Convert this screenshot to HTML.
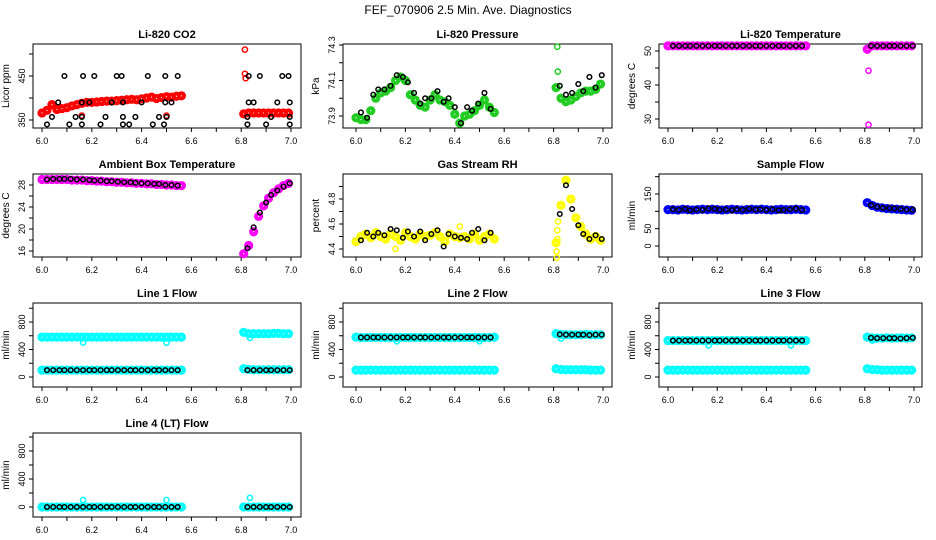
<!DOCTYPE html>
<html><head><meta charset="utf-8"><style>
body{margin:0;background:#fff;}
svg{display:block;font-family:"Liberation Sans",sans-serif;}
</style></head><body>
<svg id="chart" width="936" height="540" viewBox="0 0 936 540">
<text x="468" y="14" text-anchor="middle" font-size="12">FEF_070906  2.5 Min. Ave. Diagnostics</text>
</svg>
<script>
// shared time axes
const tA = [6.00,6.02,6.04,6.06,6.08,6.10,6.12,6.14,6.16,6.18,6.20,6.22,6.24,6.26,6.28,6.30,6.32,6.34,6.36,6.38,6.40,6.42,6.44,6.46,6.48,6.50,6.52,6.54,6.56];
const tB = [6.81,6.83,6.85,6.87,6.89,6.91,6.93,6.95,6.97,6.99];
const tKA = [6.02,6.045,6.07,6.09,6.115,6.14,6.165,6.19,6.21,6.235,6.26,6.28,6.305,6.33,6.355,6.375,6.40,6.425,6.45,6.47,6.495,6.52,6.545];
const tKB = [6.825,6.85,6.875,6.90,6.92,6.945,6.97,6.995];
const xTicks = [6.0,6.1,6.2,6.3,6.4,6.5,6.6,6.7,6.8,6.9,7.0];
const xLabels = ["6.0","","6.2","","6.4","","6.6","","6.8","","7.0"];

// CO2
const co2A = [366,372,385,374,376,378,382,385,388,390,390,391,392,393,393,394,395,396,397,396,398,400,402,399,401,403,402,404,405];
const co2B = [364,366,366,366,366,366,366,366,366,366];
const co2OutT = [6.815,6.815,6.818,6.16,6.50];
const co2OutV = [510,455,445,360,360];
const co2KT = [6.02,6.04,6.065,6.09,6.11,6.135,6.16,6.16,6.16,6.165,6.19,6.21,6.235,6.255,6.28,6.30,6.32,6.325,6.325,6.325,6.35,6.375,6.40,6.425,6.445,6.47,6.49,6.495,6.495,6.50,6.52,6.545,6.825,6.825,6.83,6.83,6.85,6.875,6.90,6.92,6.945,6.965,6.99,6.995,6.995,6.995];
const co2KV = [340,357,390,450,340,357,340,357,390,450,390,450,340,357,390,450,450,340,357,390,340,357,390,450,340,357,340,390,450,357,390,450,340,357,390,450,390,450,340,357,390,450,450,390,357,340];
// Pressure
const prA = [73.89,73.88,73.88,73.93,74.00,74.03,74.04,74.06,74.10,74.12,74.10,74.02,73.99,73.96,73.95,73.99,74.02,73.99,73.98,73.96,73.91,73.86,73.90,73.91,73.93,73.96,73.99,73.95,73.92];
const prB = [74.06,74.00,73.98,73.99,74.01,74.03,74.04,74.04,74.05,74.08];
const prOutT = [6.815,6.817];
const prOutV = [74.29,74.15];
const prKA = [73.92,73.89,74.02,74.05,74.05,74.07,74.13,74.12,74.09,74.03,73.97,74.00,74.00,74.04,73.98,74.00,73.95,73.86,73.95,73.93,73.97,74.03,73.94];
const prKB = [74.07,74.02,74.03,74.08,74.04,74.12,74.06,74.13];
// Li-820 temperature
const ltA = [51.5,51.5,51.5,51.5,51.5,51.5,51.5,51.5,51.5,51.5,51.5,51.5,51.5,51.5,51.5,51.5,51.5,51.5,51.5,51.5,51.5,51.5,51.5,51.5,51.5,51.5,51.5,51.5,51.5];
const ltB = [50.5,51.5,51.5,51.5,51.5,51.5,51.5,51.5,51.5,51.5];
const ltOutT = [6.815,6.815];
const ltOutV = [44.2,28.3];
const ltKA = [51.5,51.5,51.5,51.5,51.5,51.5,51.5,51.5,51.5,51.5,51.5,51.5,51.5,51.5,51.5,51.5,51.5,51.5,51.5,51.5,51.5,51.5,51.5];
const ltKB = [51.5,51.5,51.5,51.5,51.5,51.5,51.5,51.5];
// Ambient box temperature
const amA = [29.0,29.0,29.0,29.0,29.0,29.0,28.9,28.9,28.9,28.8,28.8,28.7,28.7,28.6,28.6,28.5,28.5,28.4,28.4,28.3,28.3,28.2,28.2,28.1,28.1,28.0,28.0,27.9,27.9];
const amB = [15.5,17.0,19.5,22.3,24.2,25.6,26.6,27.3,27.9,28.3];
const amKA = [29.0,29.1,29.1,29.1,29.1,29.0,29.0,28.9,28.8,28.8,28.7,28.7,28.6,28.5,28.5,28.4,28.3,28.3,28.2,28.2,28.0,28.0,27.9];
const amKB = [16.5,20.3,23.0,24.8,26.2,27.0,27.7,28.3];
// Gas stream RH
const rhA = [4.46,4.50,4.52,4.49,4.53,4.50,4.48,4.52,4.50,4.47,4.53,4.50,4.48,4.52,4.50,4.51,4.53,4.50,4.46,4.52,4.50,4.49,4.50,4.48,4.52,4.47,4.50,4.52,4.48];
const rhB = [4.45,4.75,4.95,4.80,4.65,4.58,4.52,4.48,4.50,4.47];
const rhOutT = [6.812,6.813,6.815,6.815,6.818,6.16,6.42];
const rhOutV = [4.38,4.33,4.48,4.55,4.62,4.40,4.58];
const rhKA = [4.47,4.53,4.50,4.53,4.51,4.56,4.55,4.49,4.54,4.50,4.54,4.47,4.52,4.55,4.42,4.52,4.50,4.49,4.48,4.53,4.56,4.47,4.53];
const rhKB = [4.68,4.91,4.72,4.59,4.52,4.48,4.51,4.48];
// Sample flow
const sfA = [105,105,104,106,105,104,105,106,105,106,105,104,105,106,105,104,105,106,105,106,105,104,105,106,105,105,106,105,104];
const sfB = [125,117,112,110,108,107,106,105,104,103];
const sfKA = [106,104,107,103,105,104,108,107,104,105,103,106,104,107,105,106,104,106,103,104,106,108,104];
const sfKB = [118,113,110,109,108,107,105,105];
// Line 1
const l1AU = [580,580,580,580,580,580,580,580,580,580,580,580,580,580,580,580,580,580,580,580,580,580,580,580,580,580,580,580,580];
const l1AL = [100,100,100,100,100,100,100,100,100,100,100,100,100,100,100,100,100,100,100,100,100,100,100,100,100,100,100,100,100];
const l1BU = [650,630,630,630,630,630,635,635,630,630];
const l1BL = [120,110,105,105,105,105,105,105,105,105];
const l1OutT = [6.165,6.50,6.835];
const l1OutV = [500,500,570];
const l1KA = [100,100,100,100,100,100,100,100,100,100,100,100,100,100,100,100,100,100,100,100,100,100,100];
const l1KB = [100,100,100,100,100,100,100,100];
// Line 2
const l2AU = [580,575,575,575,575,575,575,575,575,575,575,575,575,575,575,575,575,575,575,575,575,575,575,575,575,575,575,575,580];
const l2AL = [100,100,100,100,100,100,100,100,100,100,100,100,100,100,100,100,100,100,100,100,100,100,100,100,100,100,100,100,100];
const l2BU = [630,620,615,615,615,615,620,615,615,615];
const l2BL = [120,110,105,105,105,105,105,100,100,100];
const l2OutT = [6.165,6.50,6.83];
const l2OutV = [520,520,560];
const l2KA = [575,575,575,575,575,575,575,575,575,575,575,575,575,575,575,575,575,575,575,575,575,575,575];
const l2KB = [620,615,615,615,615,610,615,615];
// Line 3
const l3AU = [530,530,530,530,530,530,530,530,530,530,530,530,530,530,530,530,530,530,530,530,530,530,530,530,530,530,530,530,530];
const l3AL = [100,100,100,100,100,100,100,100,100,100,100,100,100,100,100,100,100,100,100,100,100,100,100,100,100,100,100,100,100];
const l3BU = [580,570,565,565,570,565,565,570,565,570];
const l3BL = [120,110,105,100,100,100,100,100,100,100];
const l3OutT = [6.165,6.50,6.83];
const l3OutV = [460,460,530];
const l3KA = [530,530,530,530,530,530,530,530,530,530,530,530,530,530,530,530,530,530,530,530,530,530,530];
const l3KB = [570,565,565,565,565,560,565,570];
// Line 4
const l4A = [0,0,0,0,0,0,0,0,0,0,0,0,0,0,0,0,0,0,0,0,0,0,0,0,0,0,0,0,0];
const l4B = [0,0,0,0,0,0,0,0,0,0];
const l4OutT = [6.165,6.50,6.835];
const l4OutV = [100,100,130];
const l4KA = [0,0,0,0,0,0,0,0,0,0,0,0,0,0,0,0,0,0,0,0,0,0,0];
const l4KB = [0,0,0,0,0,0,0,0];

const NS = 'http://www.w3.org/2000/svg';
const svg = document.getElementById('chart');
function mk(tag, attrs, parent){const e=document.createElementNS(NS,tag);for(const k in attrs)e.setAttribute(k,attrs[k]);(parent||svg).appendChild(e);return e;}

const colL=[33,343,659], colR=[301,612,922], x6=[42,356,668], x7=[291,603,914];
const rowT=[44,174,303,433], rowB=[128,257,387,517];

function panel(o){
  const c=o.col, r=o.row;
  const g=mk('g',{});
  
  
  const xs=t=>x6[c]+(t-6)*(x7[c]-x6[c]);
  const ys=v=>o.py0+(v-o.v0)*(o.py1-o.py0)/(o.v1-o.v0);
  const box=mk('rect',{x:colL[c],y:rowT[r],width:colR[c]-colL[c],height:rowB[r]-rowT[r],fill:'none',stroke:'#000','stroke-width':1},g);
  
  
  const tt=mk('text',{x:(colL[c]+colR[c])/2,y:rowT[r]-6,'text-anchor':'middle','font-size':11,'font-weight':'bold'},g);
  tt.textContent=o.title;
  
  
  const xa=mk('g',{},g);
  
  
  const yb=rowB[r];
  mk('line',{x1:xs(6),x2:xs(7),y1:yb,y2:yb,stroke:'#000'},xa);
  xTicks.forEach((t,i)=>{
    mk('line',{x1:xs(t),x2:xs(t),y1:yb,y2:yb+4,stroke:'#000'},xa);
    if(xLabels[i]){const l=mk('text',{x:xs(t),y:yb+16,'text-anchor':'middle','font-size':9},xa);l.textContent=xLabels[i];
      
      }
  });
  const ya=mk('g',{},g);
  
  
  const xl=colL[c];
  mk('line',{x1:xl,x2:xl,y1:ys(o.yt[0]),y2:ys(o.yt[o.yt.length-1]),stroke:'#000'},ya);
  o.yt.forEach((v,i)=>{
    mk('line',{x1:xl-4,x2:xl,y1:ys(v),y2:ys(v),stroke:'#000'},ya);
    if(o.yl[i]){const l=mk('text',{x:xl-8,y:ys(v),'text-anchor':'middle','font-size':9,transform:`rotate(-90 ${xl-8} ${ys(v)})`},ya);l.textContent=o.yl[i];
      
      }
  });
  const yt=mk('text',{x:xl-24,y:(rowT[r]+rowB[r])/2,'text-anchor':'middle','font-size':10,transform:`rotate(-90 ${xl-24} ${(rowT[r]+rowB[r])/2})`},g);
  yt.textContent=o.ylab;
  
  
  o.series.forEach(s=>{
    const sg=mk('g',{},g);
    
    
    s.t.forEach((t,i)=>{
      const p=mk('circle',{cx:xs(t),cy:ys(s.v[i]),r:s.k?2.3:(s.w?2.6:2.6),fill:'none',stroke:s.col,'stroke-width':s.k?1.5:(s.w||4)},sg);
      
      
    });
  });
}
const K='#000', R='#ff0000', G='#22cc22', M='#ff00ff', Y='#ffff00', B='#0000ff', C='#00ffff';
const flowTicks=[0,200,400,600,800,1000], flowLabels=['0','','400','','800',''];

panel({name:'co2-panel',title:'Li-820 CO2',ylab:'Licor ppm',col:0,row:0,v0:350,v1:450,py0:120,py1:76,yt:[350,400,450,500],yl:['350','','450',''],
  series:[{name:'co2-series',t:tA,v:co2A,col:R},{name:'co2-series-b',t:tB,v:co2B,col:R},{name:'co2-outliers',t:co2OutT,v:co2OutV,col:R,w:1.5},
  {name:'co2-avg',t:co2KT,v:co2KV,col:K,k:1}]});
panel({name:'pressure-panel',title:'Li-820 Pressure',ylab:'kPa',col:1,row:0,v0:73.9,v1:74.3,py0:116,py1:45,yt:[73.9,74.0,74.1,74.2,74.3],yl:['73.9','','74.1','','74.3'],
  series:[{name:'pressure-series',t:tA,v:prA,col:G},{name:'pressure-series-b',t:tB,v:prB,col:G},{name:'pressure-outliers',t:prOutT,v:prOutV,col:G,w:1.5},
  {name:'pressure-avg-a',t:tKA,v:prKA,col:K,k:1},{name:'pressure-avg-b',t:tKB,v:prKB,col:K,k:1}]});
panel({name:'li820-temp-panel',title:'Li-820 Temperature',ylab:'degrees C',col:2,row:0,v0:30,v1:50,py0:119,py1:51,yt:[30,35,40,45,50],yl:['30','','40','','50'],
  series:[{name:'li820-temp-series',t:tA,v:ltA,col:M},{name:'li820-temp-series-b',t:tB,v:ltB,col:M},{name:'li820-temp-outliers',t:ltOutT,v:ltOutV,col:M,w:1.5},
  {name:'li820-temp-avg-a',t:tKA,v:ltKA,col:K,k:1},{name:'li820-temp-avg-b',t:tKB,v:ltKB,col:K,k:1}]});
panel({name:'ambient-temp-panel',title:'Ambient Box Temperature',ylab:'degrees C',col:0,row:1,v0:16,v1:28,py0:251,py1:185,yt:[16,18,20,22,24,26,28],yl:['16','','20','','24','','28'],
  series:[{name:'ambient-series',t:tA,v:amA,col:M},{name:'ambient-series-b',t:tB,v:amB,col:M},
  {name:'ambient-avg-a',t:tKA,v:amKA,col:K,k:1},{name:'ambient-avg-b',t:tKB,v:amKB,col:K,k:1}]});
panel({name:'rh-panel',title:'Gas Stream RH',ylab:'percent',col:1,row:1,v0:4.4,v1:4.8,py0:249,py1:199,yt:[4.4,4.5,4.6,4.7,4.8,4.9],yl:['4.4','','4.6','','4.8',''],
  series:[{name:'rh-series',t:tA,v:rhA,col:Y},{name:'rh-series-b',t:tB,v:rhB,col:Y},{name:'rh-outliers',t:rhOutT,v:rhOutV,col:Y,w:1.5},
  {name:'rh-avg-a',t:tKA,v:rhKA,col:K,k:1},{name:'rh-avg-b',t:tKB,v:rhKB,col:K,k:1}]});
panel({name:'sample-flow-panel',title:'Sample Flow',ylab:'ml/min',col:2,row:1,v0:0,v1:150,py0:246,py1:194,yt:[0,50,100,150,200],yl:['0','50','','150',''],
  series:[{name:'sample-flow-series',t:tA,v:sfA,col:B},{name:'sample-flow-series-b',t:tB,v:sfB,col:B},
  {name:'sample-flow-avg-a',t:tKA,v:sfKA,col:K,k:1},{name:'sample-flow-avg-b',t:tKB,v:sfKB,col:K,k:1}]});
panel({name:'line1-flow-panel',title:'Line 1 Flow',ylab:'ml/min',col:0,row:2,v0:0,v1:800,py0:377,py1:322,yt:flowTicks,yl:flowLabels,
  series:[{name:'line1-upper',t:tA,v:l1AU,col:C},{name:'line1-lower',t:tA,v:l1AL,col:C},{name:'line1-upper-b',t:tB,v:l1BU,col:C},{name:'line1-lower-b',t:tB,v:l1BL,col:C},
  {name:'line1-outliers',t:l1OutT,v:l1OutV,col:C,w:1.5},{name:'line1-avg-a',t:tKA,v:l1KA,col:K,k:1},{name:'line1-avg-b',t:tKB,v:l1KB,col:K,k:1}]});
panel({name:'line2-flow-panel',title:'Line 2 Flow',ylab:'ml/min',col:1,row:2,v0:0,v1:800,py0:377,py1:322,yt:flowTicks,yl:flowLabels,
  series:[{name:'line2-upper',t:tA,v:l2AU,col:C},{name:'line2-lower',t:tA,v:l2AL,col:C},{name:'line2-upper-b',t:tB,v:l2BU,col:C},{name:'line2-lower-b',t:tB,v:l2BL,col:C},
  {name:'line2-outliers',t:l2OutT,v:l2OutV,col:C,w:1.5},{name:'line2-avg-a',t:tKA,v:l2KA,col:K,k:1},{name:'line2-avg-b',t:tKB,v:l2KB,col:K,k:1}]});
panel({name:'line3-flow-panel',title:'Line 3 Flow',ylab:'ml/min',col:2,row:2,v0:0,v1:800,py0:377,py1:322,yt:flowTicks,yl:flowLabels,
  series:[{name:'line3-upper',t:tA,v:l3AU,col:C},{name:'line3-lower',t:tA,v:l3AL,col:C},{name:'line3-upper-b',t:tB,v:l3BU,col:C},{name:'line3-lower-b',t:tB,v:l3BL,col:C},
  {name:'line3-outliers',t:l3OutT,v:l3OutV,col:C,w:1.5},{name:'line3-avg-a',t:tKA,v:l3KA,col:K,k:1},{name:'line3-avg-b',t:tKB,v:l3KB,col:K,k:1}]});
panel({name:'line4-flow-panel',title:'Line 4 (LT) Flow',ylab:'ml/min',col:0,row:3,v0:0,v1:800,py0:507,py1:451,yt:flowTicks,yl:flowLabels,
  series:[{name:'line4-series',t:tA,v:l4A,col:C},{name:'line4-series-b',t:tB,v:l4B,col:C},{name:'line4-outliers',t:l4OutT,v:l4OutV,col:C,w:1.5},
  {name:'line4-avg-a',t:tKA,v:l4KA,col:K,k:1},{name:'line4-avg-b',t:tKB,v:l4KB,col:K,k:1}]});
</script>
</body></html>
